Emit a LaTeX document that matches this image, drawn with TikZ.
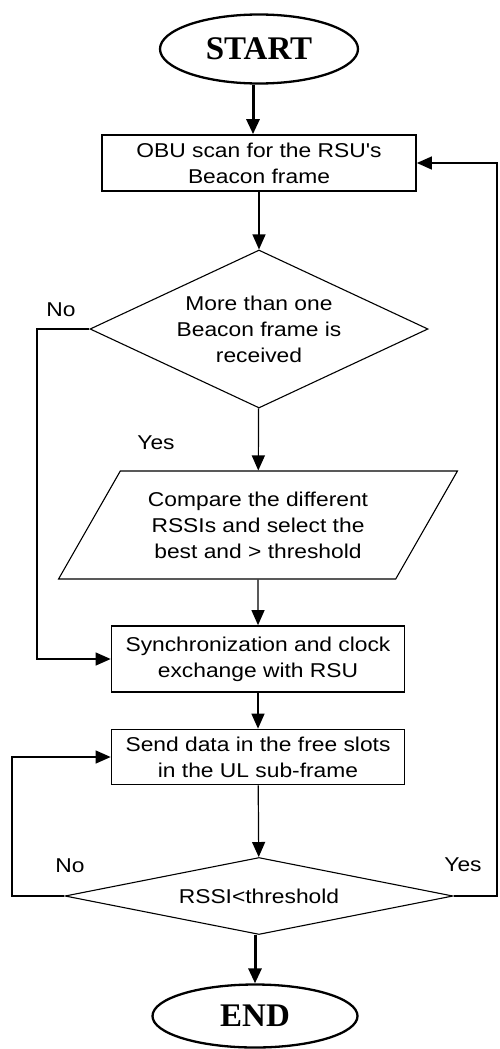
\documentclass[tikz,border=0pt]{standalone}
\usepackage{fontspec}
\setmainfont{Liberation Serif}
\newfontfamily\flowfont[FakeStretch=1.14]{Liberation Sans}
\usetikzlibrary{shapes.geometric}
\usetikzlibrary{arrows.meta}
\tikzset{x=1pt, y=-1pt,
    every node/.style={
        font=\flowfont\fontsize{20}{26}\selectfont,
        align=center,
        inner sep=0pt},
    block/.style={
        rectangle,
        draw,
        line width=1.7pt},
    decision/.style={
        diamond,
        draw,
        line width=1.1pt},
    data/.style={
        trapezium,
        trapezium left angle=53.5,
        trapezium right angle=126.5,
        trapezium stretches=true,
        draw,
        line width=1.1pt},
    terminal/.style={
        ellipse,
        draw,
        line width=2.3pt,
        font=\bfseries\fontsize{33}{36}\selectfont},
    flow/.style={
        draw,
        -{Triangle[length=15pt,width=13pt]},
        line width=1.2pt},
    thickflow/.style={
        flow,
        line width=3pt}}

\begin{document}
\begin{tikzpicture}
        \useasboundingbox (0,0) rectangle (499,1049);
        \node[terminal, minimum width=198, minimum height=69] (start) at (259,49) {START};
        \node[block, minimum width=314, minimum height=56] (scan) at (259,163) {OBU scan for the RSU's\\Beacon frame};
        \node[decision, aspect=2.14, minimum width=338, minimum height=158] (more) at (259,329) {More than one\\Beacon frame is\\received};
        \node[data, minimum width=400, minimum height=108] (cmp) at (258,525) {Compare the different\\RSSIs and select the\\best and > threshold};
        \node[block, minimum width=293, minimum height=66] (sync) at (258,659) {Synchronization and clock\\exchange with RSU};
        \node[block, minimum width=293, minimum height=55] (send) at (258,757) {Send data in the free slots\\in the UL sub-frame};
        \node[decision, aspect=5.04, minimum width=388, minimum height=77] (rssi) at (259,896) {RSSI<threshold};
        \node[terminal, minimum width=205, minimum height=63] (stop) at (255,1016) {END};

        \node (no1) at (61,310) {No};
        \node (yes1) at (156,443) {Yes};
        \node (no2) at (70,866) {No};
        \node (yes2) at (463,865) {Yes};

        \coordinate (noturn) at (37,500);
        \coordinate (loopl) at (12,830);
        \coordinate (loopr) at (497,500);

        \draw[thickflow] ([xshift=-6pt]start.south) -- ([xshift=-6pt]scan.north);
        \draw[flow] (scan) -- (more);
        \draw[flow] (more) -- (cmp);
        \draw[flow] (cmp) -- (sync);
        \draw[flow] (sync) -- (send);
        \draw[flow] (send) -- (rssi);
        \draw[thickflow] (rssi.south -| stop.north) -- (stop.north);
        \draw[flow] (more.west) -| (noturn) |- (sync.west);
        \draw[flow] (rssi.west) -| (loopl) |- (send.west);
        \draw[flow] (rssi.east) -| (loopr) |- (scan.east);
    \end{tikzpicture}
\end{document}
